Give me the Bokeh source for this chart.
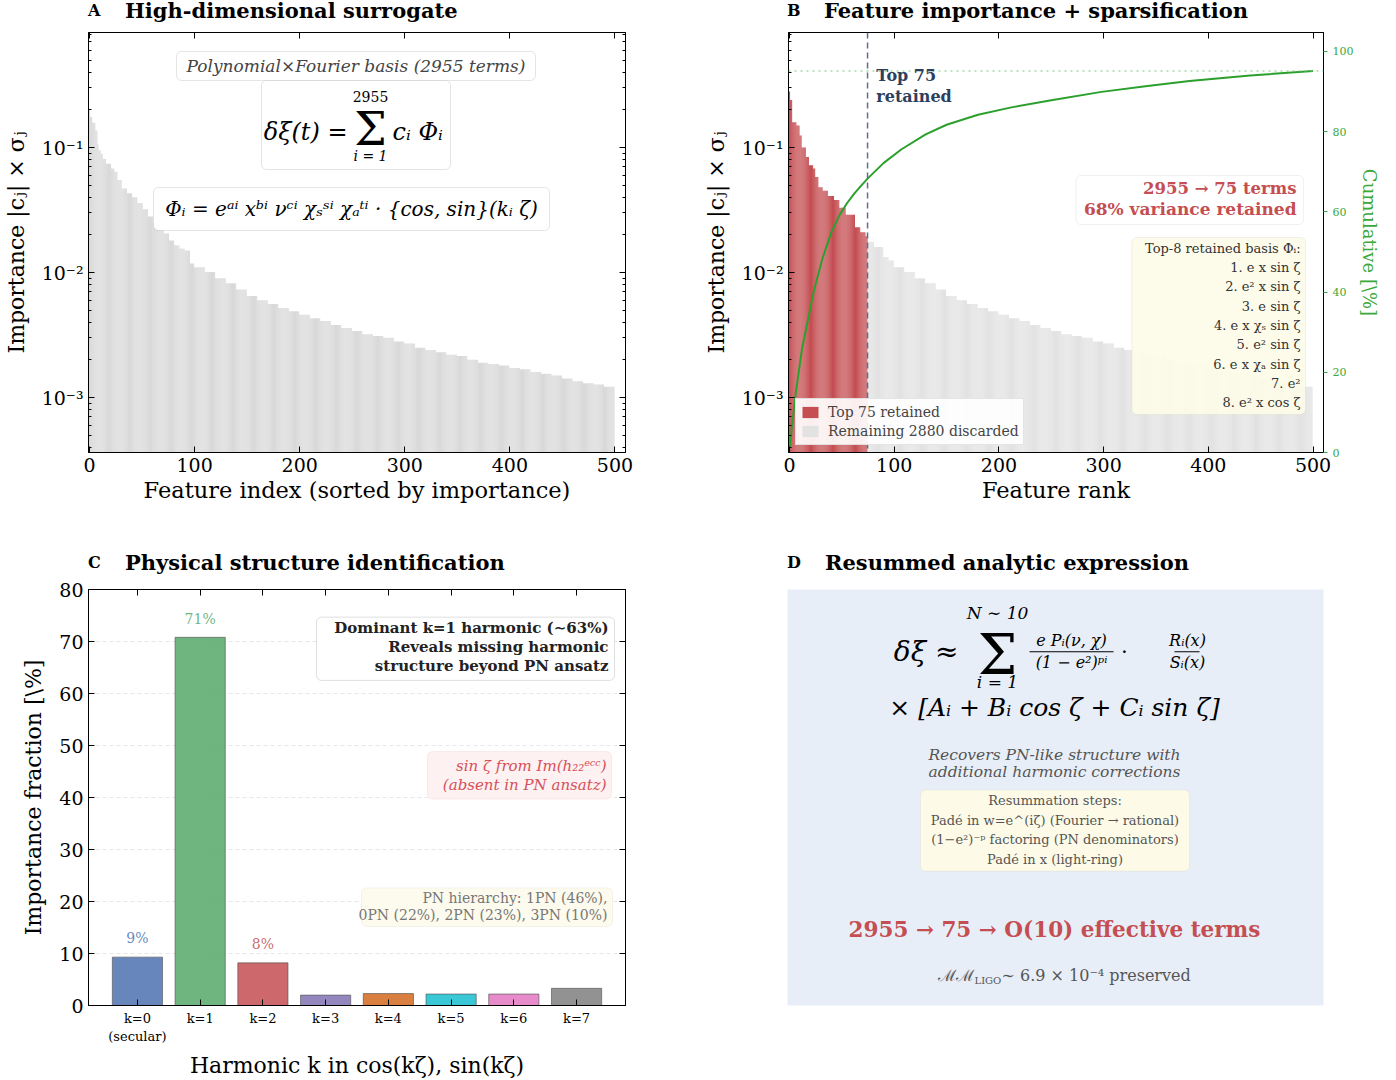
import numpy as np
from bokeh.plotting import figure
from bokeh.layouts import column, row
from bokeh.models import (Range1d, LinearAxis, LogAxis, LinearScale, Span, Label, Div,
                          BoxAnnotation, FixedTicker, ColumnDataSource)
from bokeh.embed import file_html
from bokeh.resources import INLINE

SERIF = "DejaVu Serif"

# ---------------- data ----------------
total_terms = 2955
n_keep = 75
n_show = 500

# Panel A: sorted importance of the first 100 features (value, number of consecutive bars)
head_a_vals = [0.198, 0.175, 0.158, 0.137, 0.107, 0.095, 0.089, 0.081, 0.074, 0.068, 0.064, 0.055,
               0.047, 0.043, 0.040, 0.036, 0.032, 0.028, 0.025, 0.022, 0.0205, 0.018, 0.0165,
               0.0155, 0.015, 0.0118]
head_a_runs = [1, 2, 3, 2, 1, 2, 2, 3, 5, 3, 3, 4, 5, 5, 5, 5, 5, 5, 5, 5, 5, 5, 5, 5, 5, 4]

# Panel B: sorted importance of the first 100 features (value, number of consecutive bars)
head_b_vals = [0.28, 0.24, 0.159, 0.15, 0.125, 0.10, 0.084, 0.072, 0.068, 0.058, 0.048, 0.045,
               0.041, 0.038, 0.033, 0.029, 0.023, 0.021, 0.0195, 0.0176, 0.0160, 0.0133, 0.0125]
head_b_runs = [1, 2, 4, 3, 2, 4, 3, 4, 2, 3, 4, 5, 6, 5, 6, 9, 5, 5, 2, 6, 9, 5, 5]

# Features 100..499, one value per block of 10 ranks (shared by A and B)
tail_vals = [0.0110, 0.0101, 0.0090, 0.0082, 0.0073, 0.0065, 0.0060, 0.0056, 0.0052, 0.0049,
             0.0046, 0.0043, 0.0041, 0.0038, 0.0036, 0.0034, 0.0032, 0.0031, 0.0030, 0.0028,
             0.0027, 0.0025, 0.0024, 0.0023, 0.0022, 0.00215, 0.0020, 0.0019, 0.00185, 0.0018,
             0.00172, 0.00168, 0.0016, 0.00155, 0.0015, 0.00142, 0.00135, 0.0013, 0.00127, 0.00122]
tail_block = 10

# Panel B: cumulative importance [%] vs rank
cum_rank = [0, 2, 6, 12, 23, 31, 40, 48, 55, 62, 68, 75, 90, 107, 130, 150, 180, 213, 250, 298,
            340, 382, 440, 500]
cum_pct = [1.0, 5.8, 15, 26, 40, 48, 55, 59.3, 62.2, 64.6, 66.4, 68.4, 72.2, 75.6, 79.3, 81.7,
           84.2, 86.1, 87.8, 89.9, 91.3, 92.6, 94, 95.1]

top8_basis = ["e x sin ζ", "e² x sin ζ", "e sin ζ", "e x χₛ sin ζ", "e² sin ζ",
              "e x χₐ sin ζ", "e²", "e² x cos ζ"]

# Panel C: importance fraction per harmonic
harm_k = [0, 1, 2, 3, 4, 5, 6, 7]
harm_frac = [9.3, 70.8, 8.2, 2.0, 2.3, 2.2, 2.2, 3.3]
harm_colors = ["#4C72B0", "#55A868", "#C44E52", "#8172B3", "#D2691E", "#17BECF", "#E377C2", "#7F7F7F"]
harm_labels = ["k=0\n(secular)", "k=1", "k=2", "k=3", "k=4", "k=5", "k=6", "k=7"]

rank = np.arange(n_show)
tail = np.repeat(tail_vals, tail_block)
imp_a = np.concatenate([np.repeat(head_a_vals, head_a_runs), tail])
imp_b = np.concatenate([np.repeat(head_b_vals, head_b_runs), tail])

# ---------------- helpers ----------------
LOG_LO, LOG_HI = -3.44, -0.08
XA0, XA1 = -1, 510


def yl(Y):
    return 10 ** (LOG_HI - (Y - 32) / 420 * (LOG_HI - LOG_LO))


def xA(X):
    return XA0 + (X - 88) / 537 * (XA1 - XA0)


def xB(X):
    return XA0 + (X - 787) / 536 * (XA1 - XA0)


def xC(X):
    return -0.78 + (X - 88) / 537 * 8.56


def yC(Y):
    return (1010 - Y) / 421 * 80


def xD(X):
    return (X - 787) / 536


def yD(Y):
    return (1010 - Y) / 421


def make_fig(width, height, border, **kw):
    l, r, t, b = border
    p = figure(width=width, height=height, output_backend="svg", toolbar_location=None,
               min_border_left=l, min_border_right=r, min_border_top=t, min_border_bottom=b, **kw)
    p.title.text = ""
    p.title.visible = False
    p.outline_line_color = "black"
    p.outline_line_width = 1
    p.border_fill_color = "white"
    p.background_fill_color = "white"
    p.grid.visible = False
    return p


def style_axis(ax, size="19px", labels=True):
    ax.axis_line_color = "black"
    ax.major_tick_in = 6
    ax.major_tick_out = 0
    ax.minor_tick_in = 3
    ax.minor_tick_out = 0
    ax.major_tick_line_color = "black"
    ax.minor_tick_line_color = "black"
    ax.major_label_text_font = SERIF
    ax.major_label_text_font_size = size
    ax.major_label_text_color = "black"
    ax.axis_label_text_font = SERIF
    ax.axis_label_text_font_size = "22px"
    ax.axis_label_text_font_style = "normal"
    ax.axis_label_text_color = "black"
    if not labels:
        ax.major_label_text_font_size = "1px"
        ax.major_label_text_color = None
        ax.major_label_standoff = 0


def add_box(p, l, r, t, b, fill="white", alpha=0.92, line="#aaaaaa"):
    p.add_layout(BoxAnnotation(left=l, right=r, top=t, bottom=b, fill_color=fill, fill_alpha=alpha,
                               line_color=line, line_width=1, border_radius=5))


def add_text(p, x, y, text, size, color="black", style="normal", align="center",
             baseline="middle", alpha=1.0):
    p.add_layout(Label(x=x, y=y, text=text, text_font=SERIF, text_font_size=f"{size}px",
                       text_color=color, text_font_style=style, text_align=align,
                       text_baseline=baseline, text_alpha=alpha))


def title_div(letter, text, x_letter, x_text, width, height, top):
    html = (
        f'<div style="position:relative;width:{width}px;height:{height}px;'
        f'font-family:\'DejaVu Serif\';font-weight:bold;color:black;white-space:nowrap;">'
        f'<span style="position:absolute;left:{x_letter}px;top:{top}px;font-size:16px;line-height:20px;">{letter}</span>'
        f'<span style="position:absolute;left:{x_text}px;top:{top}px;font-size:21px;line-height:20px;">{text}</span>'
        f'</div>'
    )
    return Div(text=html, width=width, height=height, margin=0)


x_ticker = FixedTicker(ticks=[0, 100, 200, 300, 400, 500], minor_ticks=[])
log_ticker = FixedTicker(ticks=[1e-3, 1e-2, 1e-1],
                         minor_ticks=[m * 10.0 ** e for e in (-4, -3, -2, -1) for m in range(2, 10)])
log_labels = {1e-3: "10⁻³", 1e-2: "10⁻²", 1e-1: "10⁻¹"}
ylabel_imp = "Importance |cⱼ| × σⱼ"

ROW1_TITLE_H = 26
ROW2_TITLE_H = 37

# ---------------- Panel A ----------------
pA = make_fig(700, 540 - ROW1_TITLE_H, (88, 75, 32 - ROW1_TITLE_H, 88), x_range=Range1d(XA0, XA1),
              y_range=Range1d(10 ** LOG_LO, 10 ** LOG_HI), y_axis_type="log")
pA.vbar(x=rank, top=imp_a, bottom=1e-6, width=1.0, fill_color="#d9d9d9", line_color=None)
pA.xaxis.ticker = x_ticker
pA.yaxis.ticker = log_ticker
pA.yaxis.major_label_overrides = log_labels
pA.xaxis.axis_label = "Feature index (sorted by importance)"
pA.yaxis.axis_label = ylabel_imp
for ax in pA.xaxis + pA.yaxis:
    style_axis(ax)
pA.xaxis.axis_label_text_font_size = "22.5px"
pA.xaxis.axis_label_standoff = 2
pA.yaxis.axis_label_standoff = 10
topA = LinearAxis(ticker=x_ticker)
style_axis(topA, labels=False)
pA.add_layout(topA, "above")
rightA = LogAxis(ticker=log_ticker)
style_axis(rightA, labels=False)
pA.add_layout(rightA, "right")

add_box(pA, xA(176), xA(535), yl(51), yl(80))
add_text(pA, xA(355.5), yl(65.5), f"Polynomial×Fourier basis ({total_terms} terms)", 17,
         color="#444444", style="italic")
add_box(pA, xA(261), xA(450), yl(80), yl(169))
add_text(pA, xA(370), yl(96), f"{total_terms}", 14)
add_text(pA, xA(370), yl(128), "Σ", 46)
add_text(pA, xA(347), yl(131), "δξ(t) =", 24, style="italic", align="right")
add_text(pA, xA(392), yl(131), "cᵢ Φᵢ", 24, style="italic", align="left")
add_text(pA, xA(370), yl(155), "i = 1", 14, style="italic")
add_box(pA, xA(153), xA(549), yl(187), yl(230))
add_text(pA, xA(351), yl(208.5), "Φᵢ = eᵃⁱ xᵇⁱ νᶜⁱ χₛˢⁱ χₐᵗⁱ · {cos, sin}(kᵢ ζ)", 20, style="italic")

# ---------------- Panel B ----------------
pB = make_fig(696, 540 - ROW1_TITLE_H, (87, 73, 32 - ROW1_TITLE_H, 88), x_range=Range1d(XA0, XA1),
              y_range=Range1d(10 ** LOG_LO, 10 ** LOG_HI), y_axis_type="log")
pB.extra_y_ranges = {"cum": Range1d(0, 104.7)}
pB.extra_y_scales = {"cum": LinearScale()}
pB.vbar(x=rank[:n_keep], top=imp_b[:n_keep], bottom=1e-6, width=1.0, fill_color="#c44e52",
        line_color=None, legend_label=f"Top {n_keep} retained")
pB.vbar(x=rank[n_keep:], top=imp_b[n_keep:], bottom=1e-6, width=1.0, fill_color="#e2e2e2",
        line_color=None, legend_label=f"Remaining {total_terms - n_keep} discarded")
pB.add_layout(Span(location=n_keep - 0.5, dimension="height", line_color="#5f6f8a",
                   line_dash="6 4", line_width=1.5))
pB.add_layout(Span(location=cum_pct[-1], dimension="width", y_range_name="cum",
                   line_color="#7cc47c", line_dash="dotted", line_width=1))
pB.line(x=cum_rank, y=cum_pct, y_range_name="cum", line_color="#2ca02c", line_width=2)
pB.xaxis.ticker = x_ticker
pB.yaxis.ticker = log_ticker
pB.yaxis.major_label_overrides = log_labels
pB.xaxis.axis_label = "Feature rank"
pB.yaxis.axis_label = ylabel_imp
for ax in pB.xaxis + pB.yaxis:
    style_axis(ax)
pB.xaxis.axis_label_text_font_size = "22.5px"
pB.xaxis.axis_label_standoff = 2
pB.yaxis.axis_label_standoff = 10
topB = LinearAxis(ticker=x_ticker)
style_axis(topB, labels=False)
pB.add_layout(topB, "above")
cum_axis = LinearAxis(y_range_name="cum", ticker=FixedTicker(ticks=[0, 20, 40, 60, 80, 100], minor_ticks=[]),
                      axis_label="Cumulative [\\%]")
style_axis(cum_axis, size="11px")
cum_axis.major_tick_in = 0
cum_axis.major_tick_out = 4
cum_axis.major_tick_line_color = "#3aa83a"
cum_axis.major_label_text_color = "#3aa83a"
cum_axis.axis_label_text_color = "#3aa83a"
cum_axis.axis_label_text_font_size = "18px"
cum_axis.axis_label_standoff = 3
pB.add_layout(cum_axis, "right")

pB.legend.location = "bottom_left"
pB.legend.label_text_font = SERIF
pB.legend.label_text_font_size = "14px"
pB.legend.background_fill_alpha = 0.9
pB.legend.border_line_color = "#cccccc"
pB.legend.margin = 7
pB.legend.padding = 4
pB.legend.spacing = 1
pB.legend.glyph_width = 20
pB.legend.glyph_height = 14
pB.legend.label_height = 18
pB.legend.label_standoff = 8

add_text(pB, xB(875), yl(75), f"Top {n_keep}", 16, color="#2d3e5e", style="bold", align="left")
add_text(pB, xB(875), yl(96), "retained", 16, color="#2d3e5e", style="bold", align="left")
add_box(pB, xB(1075), xB(1303), yl(175), yl(224), line="#cccccc")
add_text(pB, xB(1296), yl(188), f"{total_terms} → {n_keep} terms", 16.5, color="#c44e52",
         style="bold", align="right")
add_text(pB, xB(1296), yl(208), f"{int(cum_pct[cum_rank.index(n_keep)])}% variance retained", 17,
         color="#c44e52", style="bold", align="right")
add_box(pB, xB(1131), xB(1305), yl(237), yl(414), fill="#fdfbe8", line="#d0d0c0")
add_text(pB, xB(1300), yl(248), "Top-8 retained basis Φᵢ:", 13, color="#333333", align="right")
for i, term in enumerate(top8_basis):
    add_text(pB, xB(1300), yl(267 + i * 19.3), f"{i + 1}. {term}", 13, color="#333333", align="right")

# ---------------- Panel C ----------------
pC = make_fig(700, 540 - ROW2_TITLE_H, (88, 75, 49 - ROW2_TITLE_H, 70), x_range=Range1d(-0.78, 7.78),
              y_range=Range1d(0, 80))
srcC = ColumnDataSource(dict(k=harm_k, frac=harm_frac, color=harm_colors))
pC.vbar(x="k", top="frac", width=0.8, source=srcC, fill_color="color", fill_alpha=0.85,
        line_color="#555555", line_width=0.8, line_alpha=0.8)
pC.ygrid.visible = True
pC.ygrid.grid_line_color = "#dddddd"
pC.ygrid.grid_line_dash = "4 3"
pC.ygrid.grid_line_alpha = 0.7
k_ticker = FixedTicker(ticks=harm_k, minor_ticks=[])
y_tickerC = FixedTicker(ticks=list(range(0, 90, 10)), minor_ticks=[])
pC.xaxis.ticker = k_ticker
pC.yaxis.ticker = y_tickerC
pC.ygrid.ticker = y_tickerC
pC.xaxis.major_label_overrides = {k: lab for k, lab in zip(harm_k, harm_labels)}
pC.xaxis.axis_label = "Harmonic k in cos(kζ), sin(kζ)"
pC.yaxis.axis_label = "Importance fraction [\\%]"
for ax in pC.xaxis + pC.yaxis:
    style_axis(ax)
pC.xaxis.major_label_text_font_size = "13px"
pC.xaxis.axis_label_standoff = 6
pC.yaxis.axis_label_standoff = 10
topC = LinearAxis(ticker=k_ticker)
style_axis(topC, labels=False)
pC.add_layout(topC, "above")
rightC = LinearAxis(ticker=y_tickerC)
style_axis(rightC, labels=False)
pC.add_layout(rightC, "right")

for k, v, c in zip(harm_k, harm_frac, harm_colors):
    if v >= 5:
        add_text(pC, k, v + 3.6, f"{v:.0f}%", 14, color=c, alpha=0.85)

add_box(pC, xC(316), xC(614), yC(617), yC(681), line="#999999")
add_text(pC, xC(608), yC(628), "Dominant k=1 harmonic (∼63%)", 15, color="#222222", style="bold", align="right")
add_text(pC, xC(608), yC(647), "Reveals missing harmonic", 15, color="#222222", style="bold", align="right")
add_text(pC, xC(608), yC(666), "structure beyond PN ansatz", 15, color="#222222", style="bold", align="right")
add_box(pC, xC(427), xC(611), yC(753), yC(801), fill="#fdf0f0", line="#f0c8c8")
add_text(pC, xC(606), yC(768), "sin ζ from Im(h₂₂ᵉᶜᶜ)", 15, color="#d5505a", style="italic", align="right")
add_text(pC, xC(606), yC(787), "(absent in PN ansatz)", 15, color="#d5505a", style="italic", align="right")
add_box(pC, xC(361), xC(612), yC(891), yC(930), fill="#fdfbeb", line="#dcdccc")
add_text(pC, xC(607), yC(901), "PN hierarchy: 1PN (46%),", 14, color="#777777", align="right")
add_text(pC, xC(607), yC(918), "0PN (22%), 2PN (23%), 3PN (10%)", 14, color="#777777", align="right")

# ---------------- Panel D ----------------
pD = make_fig(696, 540 - ROW2_TITLE_H, (87, 73, 49 - ROW2_TITLE_H, 70), x_range=Range1d(0, 1),
              y_range=Range1d(0, 1))
pD.xaxis.visible = False
pD.yaxis.visible = False
pD.outline_line_color = None
pD.background_fill_color = "#e8eef7"

add_text(pD, xD(958), yD(652), "δξ ≈", 28, style="italic", align="right")
add_text(pD, xD(997), yD(655), "Σ", 56)
add_text(pD, xD(997), yD(613), "N ∼ 10", 17, style="italic")
add_text(pD, xD(997), yD(683), "i = 1", 17, style="italic")
add_text(pD, xD(1071), yD(641), "e Pᵢ(ν, χ)", 16, style="italic")
add_text(pD, xD(1071), yD(663), "(1 − e²)ᵖⁱ", 16, style="italic")
add_text(pD, xD(1124), yD(652), "·", 20)
add_text(pD, xD(1187), yD(641), "Rᵢ(x)", 16, style="italic")
add_text(pD, xD(1187), yD(663), "Sᵢ(x)", 16, style="italic")
pD.segment(x0=[xD(1029), xD(1174)], y0=[yD(652), yD(652)], x1=[xD(1113), xD(1199)],
           y1=[yD(652), yD(652)], line_color="black", line_width=1)
add_text(pD, xD(1054), yD(708), "× [Aᵢ + Bᵢ cos ζ + Cᵢ sin ζ]", 25, style="italic")
add_text(pD, xD(1054), yD(756), "Recovers PN-like structure with", 15.5, color="#555555", style="italic")
add_text(pD, xD(1054), yD(774), "additional harmonic corrections", 15.5, color="#555555", style="italic")
add_box(pD, xD(920), xD(1189), yD(792), yD(874), fill="#fdfbe8", line="#d8d8c8", alpha=1.0)
steps = ["Resummation steps:", "Padé in w=e^(iζ) (Fourier → rational)",
         "(1−e²)⁻ᵖ factoring (PN denominators)", "Padé in x (light-ring)"]
for i, s in enumerate(steps):
    add_text(pD, xD(1054.5), yD(803 + i * 19.7), s, 13, color="#555555")
add_text(pD, xD(1054), yD(933), f"{total_terms} → {n_keep} → O(10) effective terms", 21.5,
         color="#c44e52", style="bold")
add_text(pD, xD(973), yD(980), "ℳℳ", 16, color="#555555", align="right")
add_text(pD, xD(974), yD(985), "LIGO", 10, color="#555555", align="left")
add_text(pD, xD(1001), yD(980), "∼ 6.9 × 10⁻⁴ preserved", 16, color="#555555", align="left")

# ---------------- titles & layout ----------------
tA = title_div("A", "High-dimensional surrogate", 88, 125, 700, ROW1_TITLE_H, 1)
tB = title_div("B", "Feature importance + sparsification", 87, 124, 696, ROW1_TITLE_H, 1)
tC = title_div("C", "Physical structure identification", 88, 125, 700, ROW2_TITLE_H, 13)
tD = title_div("D", "Resummed analytic expression", 87, 125, 696, ROW2_TITLE_H, 13)

layout = column(row(tA, tB, spacing=0), row(pA, pB, spacing=0),
                row(tC, tD, spacing=0), row(pC, pD, spacing=0), spacing=0)
open("out.html", "w").write(file_html(layout, INLINE))
